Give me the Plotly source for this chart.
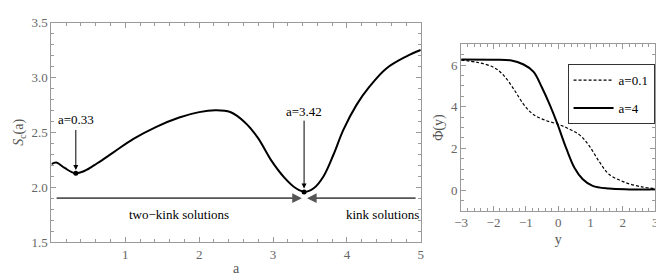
import plotly.graph_objects as go

# Left panel: S_c(a)
a_vals = [0, 0.067, 0.178, 0.32, 0.444, 0.62, 0.844, 1.11, 1.42, 1.73, 2.0, 2.22, 2.42, 2.62,
          2.795, 2.973, 3.15, 3.31, 3.43, 3.55, 3.684, 3.82, 3.95, 4.13, 4.31, 4.53, 4.80, 5.0]
s_vals = [2.21, 2.224, 2.175, 2.127, 2.147, 2.218, 2.32, 2.44, 2.55, 2.635, 2.684, 2.70, 2.685, 2.59,
          2.45, 2.247, 2.09, 1.99, 1.957, 1.99, 2.10, 2.30, 2.52, 2.75, 2.92, 3.08, 3.19, 3.25]
min_a = [0.33, 3.42]
min_s = [2.127, 1.957]
min_labels = ["a=0.33", "a=3.42"]

# Right panel: Phi(y)
y_dash = [-3, -2.49, -1.98, -1.68, -1.37, -1.07, -0.76, -0.36, 0, 0.354, 0.66, 0.96, 1.27, 1.57,
          2.08, 2.59, 3]
phi_dash = [6.24, 6.13, 5.88, 5.50, 4.84, 4.12, 3.62, 3.33, 3.16, 2.92, 2.65, 2.12, 1.36, 0.76,
            0.36, 0.15, 0.07]
y_solid = [-3, -2, -1.48, -1.07, -0.76, -0.51, -0.256, -0.03, 0.25, 0.506, 0.76, 1.065, 1.57, 2.2, 3]
phi_solid = [6.27, 6.26, 6.23, 6.03, 5.68, 4.95, 4.08, 3.20, 2.00, 1.06, 0.52, 0.20, 0.07, 0.03, 0.02]

FONT = "Liberation Serif"
GRAY = "#9a9a9a"
TICKFONT = dict(family=FONT, size=13, color="#666666")

fig = go.Figure()
fig.add_trace(go.Scatter(x=a_vals, y=s_vals, mode="lines",
                         line=dict(color="black", width=2, shape="spline", smoothing=1.0),
                         showlegend=False, xaxis="x", yaxis="y"))
fig.add_trace(go.Scatter(x=min_a, y=min_s, mode="markers", marker=dict(color="black", size=5),
                         showlegend=False, xaxis="x", yaxis="y"))
fig.add_trace(go.Scatter(x=y_dash, y=phi_dash, mode="lines", name="a=0.1", legendgroup="g1",
                         line=dict(color="black", width=1.2, dash="3px,2px", shape="spline", smoothing=1.0),
                         xaxis="x2", yaxis="y2"))
fig.add_trace(go.Scatter(x=y_solid, y=phi_solid, mode="lines", name="a=4", legendgroup="g2",
                         line=dict(color="black", width=2, shape="spline", smoothing=1.0),
                         xaxis="x2", yaxis="y2"))

ann = []
for xa, ya, lab, tail, txt in zip(min_a, min_s, min_labels, [2.535, 2.62], [2.62, 2.69]):
    ann.append(dict(x=xa, y=ya + 0.03, ax=xa, ay=tail, xref="x", yref="y", axref="x", ayref="y",
                    text="", showarrow=True, arrowhead=2, arrowsize=1, arrowwidth=1, arrowcolor="black"))
    ann.append(dict(x=xa, y=txt, xref="x", yref="y", text=lab, showarrow=False,
                    font=dict(family=FONT, size=13, color="black"), yanchor="middle"))
# horizontal range arrows
ann.append(dict(x=3.39, y=1.9, ax=0.05, ay=1.9, xref="x", yref="y", axref="x", ayref="y", text="",
                showarrow=True, arrowhead=2, arrowsize=1.2, arrowwidth=1.6, arrowcolor="#555555"))
ann.append(dict(x=3.46, y=1.9, ax=4.95, ay=1.9, xref="x", yref="y", axref="x", ayref="y", text="",
                showarrow=True, arrowhead=2, arrowsize=1.2, arrowwidth=1.6, arrowcolor="#555555"))
ann.append(dict(x=1.73, y=1.75, xref="x", yref="y", text="two\u2212kink solutions", showarrow=False,
                font=dict(family=FONT, size=13, color="black")))
ann.append(dict(x=4.48, y=1.75, xref="x", yref="y", text="kink solutions", showarrow=False,
                font=dict(family=FONT, size=13, color="black")))

axis_common = dict(showline=True, linecolor=GRAY, linewidth=1, mirror="allticks", ticks="inside",
                   ticklen=5, tickcolor=GRAY, showgrid=False, zeroline=False, tickfont=TICKFONT)
TITLEFONT = dict(family=FONT, size=14, color="#555555")

fig.update_layout(
    width=664, height=278, margin=dict(l=0, r=0, t=0, b=0),
    paper_bgcolor="white", plot_bgcolor="white",
    font=dict(family=FONT),
    xaxis=dict(domain=[37/664, 412/664], range=[0, 5], tickvals=[1, 2, 3, 4, 5],
               minor=dict(dtick=0.2, ticks="inside", ticklen=3, tickcolor=GRAY),
               title=dict(text="a", font=TITLEFONT, standoff=2),
               anchor="y", **axis_common),
    yaxis=dict(domain=[1-240/278, 1-8/278], range=[1.5, 3.5], tickvals=[1.5, 2.0, 2.5, 3.0, 3.5],
               tickformat=".1f",
               minor=dict(dtick=0.1, ticks="inside", ticklen=3, tickcolor=GRAY),
               title=dict(text="<i>S</i><sub>c</sub>(a)", font=TITLEFONT, standoff=4),
               anchor="x", **axis_common),
    xaxis2=dict(domain=[453/664, 650/664], range=[-3, 3], tickvals=[-3, -2, -1, 0, 1, 2, 3],
                ticktext=["\u22123", "\u22122", "\u22121", "0", "1", "2", "3"],
                minor=dict(dtick=0.2, ticks="inside", ticklen=3, tickcolor=GRAY),
                title=dict(text="y", font=TITLEFONT, standoff=4),
                anchor="y2", **axis_common),
    yaxis2=dict(domain=[1-207/278, 1-31/278], range=[-1, 7], tickvals=[0, 2, 4, 6],
                minor=dict(dtick=0.5, ticks="inside", ticklen=3, tickcolor=GRAY),
                title=dict(text="\u03a6(y)", font=TITLEFONT, standoff=4),
                anchor="x2", **axis_common),
    legend=dict(x=561/664, y=1-52/278, xanchor="left", yanchor="top", bordercolor="#333333",
                borderwidth=1, bgcolor="white", font=dict(family=FONT, size=13, color="black"),
                traceorder="grouped", tracegroupgap=8, itemwidth=40),
    annotations=ann,
)

fig.write_html("out.html")
